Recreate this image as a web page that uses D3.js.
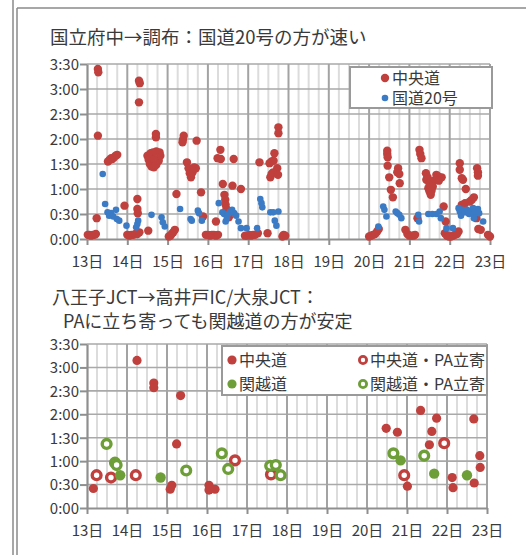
<!DOCTYPE html>
<html><head><meta charset="utf-8">
<script src="https://cdn.jsdelivr.net/npm/d3@7"></script>
<style>
html,body{margin:0;padding:0;background:#fff;}
svg{display:block;font-family:"Noto Sans CJK JP","Noto Sans",sans-serif;}
</style></head><body>
<svg id="c" width="526" height="555"></svg>
<script>
// Axis ticks and labels
const dayTicks = d3.range(13, 24);
const dayLabels = dayTicks.map(d => d + "日");
const timeTicks = [0, 30, 60, 90, 120, 150, 180, 210];
const timeLabels = ["0:00", "0:30", "1:00", "1:30", "2:00", "2:30", "3:00", "3:30"];

const title1 = "国立府中→調布：国道20号の方が速い";
const title2 = ["八王子JCT→高井戸IC/大泉JCT：", "PAに立ち寄っても関越道の方が安定"];

// Travel times, [day of month, minutes]
// 国立府中→調布
const chuoA = [
  [13.02,5],[13.06,5],[13.1,4],[13.14,5],[13.18,5],[13.22,6],
  [13.27,204],[13.28,200],[13.27,124],[13.24,25],
  [13.52,93],[13.56,95],[13.6,97],[13.63,96],[13.67,98],[13.71,100],[13.75,101],
  [13.93,40],
  [14.0,5],[14.05,4],[14.1,5],[14.15,5],[14.2,6],[14.25,6],[14.3,8],
  [14.29,190],[14.31,187],[14.29,164],
  [14.25,48],[14.25,36],[14.26,31],
  [14.52,10],
  [14.5,100],[14.53,95],[14.56,90],[14.6,87],[14.66,86],[14.72,89],[14.78,94],[14.82,100],
  [14.8,104],[14.72,105],[14.64,104],[14.58,103],[14.66,96],[14.71,122],[14.71,126],
  [15.03,3],[15.07,4],[15.1,6],[15.14,8],[15.18,11],
  [15.22,54],
  [15.38,119],[15.4,124],[15.37,116],
  [15.48,92],[15.52,85],[15.55,79],[15.58,74],[15.62,80],[15.66,86],[15.7,85],
  [15.72,118],
  [15.83,56],[15.88,27],
  [15.95,5],[16.0,5],[16.05,4],[16.1,5],[16.15,5],[16.2,4],[16.25,5],
  [16.24,97],[16.31,107],[16.32,96],[16.64,96],
  [16.37,66],[16.61,64],[16.82,60],
  [16.41,53],[16.43,47],[16.44,41],[16.46,36],[16.49,30],[16.52,26],
  [16.2,21],
  [16.92,4],[16.97,4],[17.02,5],[17.07,4],[17.12,5],[17.17,5],[17.24,7],
  [17.28,92],
  [17.48,7],
  [17.53,91],[17.58,93],[17.63,94],
  [17.65,103],
  [17.55,74],[17.58,78],[17.62,80],[17.72,85],[17.74,77],
  [17.75,134],[17.75,127],
  [17.85,3],[17.88,5],[17.92,4],
  [20.0,3],[20.05,4],[20.1,5],[20.15,6],[20.2,9],[20.24,12],
  [20.3,161],
  [20.45,106],[20.45,102],[20.46,98],[20.46,88],[20.5,74],[20.54,59],[20.59,50],
  [20.72,85],[20.7,80],[20.75,78],[20.76,67],
  [20.9,11],[20.95,6],[21.0,4],[21.05,4],[21.1,4],[21.14,5],
  [21.25,107],[21.27,102],[21.3,97],
  [21.2,25],
  [21.41,79],[21.45,74],[21.42,71],[21.47,61],[21.5,57],[21.53,53],[21.55,58],[21.5,66],[21.58,63],[21.6,70],
  [21.67,77],[21.72,75],[21.8,74],[21.73,70],
  [21.85,39],[21.9,21],
  [21.88,7],[21.93,4],[21.98,3],[22.03,3],[22.08,4],[22.13,5],[22.18,6],[22.22,9],
  [22.25,91],[22.25,83],[22.3,73],[22.33,71],[22.4,60],
  [22.3,41],[22.38,43],[22.5,45],[22.55,47],[22.6,50],
  [22.62,29],[22.66,25],
  [22.68,85],[22.7,80],[22.7,76],
  [22.71,12],[22.77,11],[22.95,5],[23.0,3]
];
const route20 = [
  [13.39,78],[13.45,42],[13.51,32],[13.55,28],[13.6,31],[13.65,27],[13.72,35],[13.74,24],[13.8,22],[13.98,16],
  [14.22,14],[14.25,18],[14.27,22],
  [14.6,29],
  [14.85,26],[14.88,20],[14.93,15],
  [15.31,36],
  [15.57,24],[15.6,22],
  [15.75,34],[15.78,31],[15.85,22],
  [16.27,43],
  [16.36,32],[16.4,30],[16.44,21],[16.47,25],[16.5,30],[16.55,33],[16.6,35],[16.65,31],[16.7,28],[16.76,21],[16.82,13],
  [16.96,13],[17.22,13],
  [17.3,48],[17.33,43],[17.35,38],
  [17.55,32],[17.62,32],[17.75,33],
  [17.66,22],[17.7,16],
  [20.23,15],[20.35,39],[20.38,35],[20.43,27],[20.66,33],[20.7,31],[20.75,29],[20.8,25],
  [21.22,29],[21.24,21],
  [21.47,30],[21.57,30],[21.67,30],
  [21.75,33],[21.78,25],
  [21.92,13],[22.08,13],
  [22.22,37],[22.25,33],[22.28,28],[22.32,35],[22.38,32],[22.43,35],[22.48,30],[22.53,33],
  [22.58,37],[22.62,30],[22.7,36],[22.73,31],[22.6,25],[22.83,21]
];

// 八王子JCT→高井戸IC/大泉JCT
const chuoB = [
  [13.16,25],[14.25,189],[14.67,160],[14.67,154],[15.08,24],[15.12,29],[15.24,82],[15.34,144],
  [16.05,29],[16.05,23],[16.2,24],
  [20.48,102],[20.76,97],[21.01,28],[21.34,125],[21.56,81],[21.62,98],[21.74,115],
  [22.13,39],[22.15,26],[22.67,114],[22.82,67],[22.83,52],[22.68,32]
];
const chuoBPA = [
  [13.24,42],[13.6,39],[14.22,42],[16.7,61],[17.6,43],[20.93,42],[21.93,83]
];
const kanetsu = [
  [13.83,42],[14.84,39],[20.84,61],[21.68,44],[22.5,42]
];
const kanetsuPA = [
  [13.49,82],[13.7,58],[13.74,55],[15.48,48],[16.37,70],[16.53,50],
  [17.58,54],[17.72,55],[17.84,42],[20.66,70],[21.43,67]
];

const RED = "#C0403E", BLUE = "#3B7BC6", GREEN = "#6E9E38";
const TXT = "#3a3a3a";

const svg = d3.select("#c");

// Page frame
svg.append("line").attr("x1", 13).attr("x2", 13).attr("y1", 0).attr("y2", 555)
  .attr("stroke", "#8a8a8a").attr("stroke-width", 1.5);
svg.append("line").attr("x1", 17).attr("x2", 17).attr("y1", 8).attr("y2", 555)
  .attr("stroke", "#8a8a8a").attr("stroke-width", 1.5);
svg.append("line").attr("x1", 17).attr("x2", 526).attr("y1", 8).attr("y2", 8)
  .attr("stroke", "#8a8a8a").attr("stroke-width", 1.5);

function panel(x0, x1, yBottom, yTop) {
  const x = d3.scaleLinear().domain([13, 23]).range([x0, x1]);
  const y = d3.scaleLinear().domain([0, 210]).range([yBottom, yTop]);
  const g = svg.append("g");

  // minor vertical gridlines every 6 hours
  const minor = d3.range(13, 23, 0.25).filter(d => d % 1 !== 0);
  g.append("g").selectAll("line").data(minor).join("line")
    .attr("x1", d => x(d)).attr("x2", d => x(d))
    .attr("y1", y(0)).attr("y2", y(210))
    .attr("stroke", "#dcdcdc").attr("stroke-width", 2);
  // horizontal gridlines every 30 minutes
  g.append("g").selectAll("line").data(timeTicks.slice(1)).join("line")
    .attr("x1", x(13)).attr("x2", x(23))
    .attr("y1", d => y(d)).attr("y2", d => y(d))
    .attr("stroke", "#a9a9a9").attr("stroke-width", 1.6);
  // day gridlines
  g.append("g").selectAll("line").data(dayTicks.slice(1)).join("line")
    .attr("x1", d => x(d)).attr("x2", d => x(d))
    .attr("y1", y(0)).attr("y2", y(210))
    .attr("stroke", "#a3a3a3").attr("stroke-width", 2);

  // axes
  const ax = g.append("g").attr("transform", `translate(0,${y(0)})`)
    .call(d3.axisBottom(x).tickValues(dayTicks).tickFormat((d, i) => dayLabels[i])
      .tickSizeInner(6).tickSizeOuter(0));
  const ay = g.append("g").attr("transform", `translate(${x(13)},0)`)
    .call(d3.axisLeft(y).tickValues(timeTicks).tickFormat((d, i) => timeLabels[i])
      .tickSizeInner(7).tickSizeOuter(0));
  [ax, ay].forEach(a => {
    a.select(".domain").attr("stroke", "#8f8f8f").attr("stroke-width", 2.2);
    a.selectAll(".tick line").attr("stroke", "#8f8f8f").attr("stroke-width", 2);
    a.selectAll("text").attr("fill", TXT).style("font-size", "15px")
      .style("font-family", '"Noto Sans CJK JP", sans-serif');
  });
  ax.selectAll("text").attr("y", 28).attr("dy", null);
  ay.selectAll("text").attr("x", -8).attr("dy", "0.36em");
  return { x, y, g };
}

function dots(p, data, r, color) {
  p.g.append("g").selectAll("circle").data(data).join("circle")
    .attr("cx", d => p.x(d[0])).attr("cy", d => p.y(d[1]))
    .attr("r", r).attr("fill", color);
}
function rings(p, data, color) {
  p.g.append("g").selectAll("circle").data(data).join("circle")
    .attr("cx", d => p.x(d[0])).attr("cy", d => p.y(d[1]))
    .attr("r", 4.4).attr("fill", "#fff").attr("stroke", color).attr("stroke-width", 3.4);
}

// ---- Upper chart ----
svg.append("text").attr("x", 50).attr("y", 44).attr("fill", TXT)
  .style("font-size", "18.5px").text(title1);
const p1 = panel(87, 490, 239, 64);
dots(p1, chuoA, 4.2, RED);
dots(p1, route20, 3.3, BLUE);

const lg1 = svg.append("g");
lg1.append("rect").attr("x", 350).attr("y", 67).attr("width", 142).attr("height", 41)
  .attr("fill", "#fff").attr("stroke", "#9a9a9a").attr("stroke-width", 2);
[["中央道", RED, 4.2], ["国道20号", BLUE, 3.3]].forEach((it, i) => {
  const cy = 78 + i * 20;
  lg1.append("circle").attr("cx", 385).attr("cy", cy).attr("r", it[2]).attr("fill", it[1]);
  lg1.append("text").attr("x", 392).attr("y", cy + 6).attr("fill", TXT)
    .style("font-size", "16px").text(it[0]);
});

// ---- Lower chart ----
svg.append("text").attr("x", 52).attr("y", 304).attr("fill", TXT)
  .style("font-size", "18px").text(title2[0]);
svg.append("text").attr("x", 63).attr("y", 328).attr("fill", TXT)
  .style("font-size", "18px").text(title2[1]);
const p2 = panel(87, 487, 508, 344);
dots(p2, chuoB, 4.6, RED);
rings(p2, chuoBPA, RED);
dots(p2, kanetsu, 5.2, GREEN);
rings(p2, kanetsuPA, GREEN);

const lg2 = svg.append("g");
lg2.append("rect").attr("x", 222).attr("y", 346).attr("width", 265).attr("height", 49)
  .attr("fill", "#fff").attr("stroke", "#9a9a9a").attr("stroke-width", 2);
const items2 = [
  ["中央道", RED, false, 232, 360], ["中央道・PA立寄", RED, true, 363, 360],
  ["関越道", GREEN, false, 232, 384], ["関越道・PA立寄", GREEN, true, 363, 384]
];
items2.forEach(it => {
  const c = lg2.append("circle").attr("cx", it[3]).attr("cy", it[4]);
  if (it[2]) c.attr("r", 3.6).attr("fill", "#fff").attr("stroke", it[1]).attr("stroke-width", 2.8);
  else c.attr("r", 4.6).attr("fill", it[1]);
  lg2.append("text").attr("x", it[3] + 7).attr("y", it[4] + 6).attr("fill", TXT)
    .style("font-size", "16px").text(it[0]);
});
</script>
</body></html>
